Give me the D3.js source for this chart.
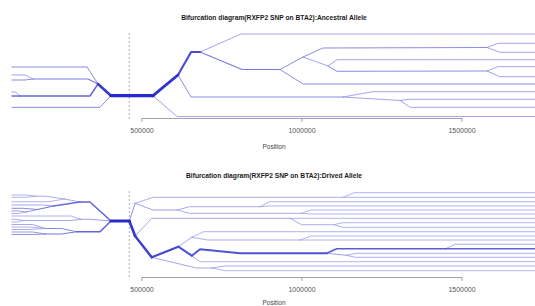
<!DOCTYPE html>
<html>
<head>
<meta charset="utf-8">
<script src="https://cdn.jsdelivr.net/npm/d3@7"></script>
<style>
body { margin: 0; background: #fff; }
text { font-family: "Liberation Sans", Arial, sans-serif; }
</style>
</head>
<body>
<div id="chart"></div>
<script>

// core SNP position and axis ticks
var corePos = 462000;
var tickVals = [500000, 1000000, 1500000];

var ancTitle = "Bifurcation diagram(RXFP2 SNP on BTA2):Ancestral Allele";
var derTitle = "Bifurcation diagram(RXFP2 SNP on BTA2):Drived Allele";
var xLabel = "Position";

// number of haplotypes carrying each allele
var ancTotal = 12;
var derTotal = 40;

var ancLeft = [
    {n: 12, pts: [[462000, 63.7], [404700, 63.7]]},
    {n: 10, pts: [[404700, 63.7], [364000, 52]]},
    {n: 2, pts: [[364000, 52], [330000, 35], [95000, 35]]},
    {n: 3, pts: [[364000, 52], [333000, 47], [161000, 47]]},
    {n: 1, pts: [[161000, 47], [136000, 43], [95000, 43]]},
    {n: 2, pts: [[161000, 47], [136000, 48], [95000, 48]]},
    {n: 5, pts: [[364000, 52], [339000, 64], [120000, 64]]},
    {n: 1, pts: [[120000, 64], [107000, 60], [95000, 60]]},
    {n: 4, pts: [[120000, 64], [95000, 64]]},
    {n: 2, pts: [[404700, 63.7], [370000, 75.3], [95000, 75.3]]}
];

var ancRight = [
    {n: 12, pts: [[462000, 63.7], [536000, 63.7]]},
    {n: 1, pts: [[536000, 63.7], [611000, 84.5], [1730000, 84.5]]},
    {n: 11, pts: [[536000, 63.7], [614000, 43]]},
    {n: 8, pts: [[614000, 43], [655000, 20], [683000, 20]]},
    {n: 2, pts: [[614000, 43], [655000, 65], [1130000, 65]]},
    {n: 1, pts: [[683000, 20], [811000, 2], [1730000, 2]]},
    {n: 3, pts: [[683000, 20], [814000, 37.5], [933000, 37.5]]},
    {n: 2, pts: [[933000, 37.5], [1005000, 52], [1730000, 52]]},
    {n: 2, pts: [[933000, 37.5], [1005000, 25]]},
    {n: 2, pts: [[1005000, 25], [1067000, 16], [1580000, 15.5]]},
    {n: 1, pts: [[1580000, 15.5], [1614000, 11.3], [1730000, 11.3]]},
    {n: 1, pts: [[1580000, 15.5], [1620000, 20.3], [1730000, 20.3]]},
    {n: 1, pts: [[1005000, 25], [1083000, 34]]},
    {n: 1, pts: [[1083000, 34], [1111000, 27.7], [1730000, 27.7]]},
    {n: 2, pts: [[1083000, 34], [1111000, 39.3], [1580000, 39]]},
    {n: 1, pts: [[1580000, 39], [1614000, 34.7], [1730000, 34.7]]},
    {n: 1, pts: [[1580000, 39], [1620000, 44.7], [1730000, 44.7]]},
    {n: 1, pts: [[1130000, 65], [1223000, 59.7], [1730000, 59.7]]},
    {n: 1, pts: [[1130000, 65], [1308000, 68.5]]},
    {n: 1, pts: [[1308000, 68.5], [1333000, 67.3], [1730000, 67.3]]},
    {n: 1, pts: [[1308000, 68.5], [1340000, 75.3], [1730000, 75.3]]}
];

var derLeft = [
    {n: 40, pts: [[462000, 31], [404700, 31]]},
    {n: 18, pts: [[404700, 31], [339000, 12], [307800, 12]]},
    {n: 3, pts: [[307800, 12], [260000, 9]]},
    {n: 2, pts: [[260000, 9], [200000, 6.2], [170000, 6.2]]},
    {n: 1, pts: [[170000, 6.2], [140000, 5], [95000, 5]]},
    {n: 1, pts: [[170000, 6.2], [140000, 7.3], [95000, 7.3]]},
    {n: 1, pts: [[260000, 9], [210000, 11.7], [95000, 11.7]]},
    {n: 15, pts: [[307800, 12], [225000, 16]]},
    {n: 3, pts: [[225000, 16], [190000, 15], [95000, 15]]},
    {n: 12, pts: [[225000, 16], [175000, 19.5]]},
    {n: 7, pts: [[175000, 19.5], [130000, 18.3], [95000, 18.3]]},
    {n: 5, pts: [[175000, 19.5], [140000, 22]]},
    {n: 4, pts: [[140000, 22], [115000, 21], [95000, 21]]},
    {n: 1, pts: [[140000, 22], [115000, 23.5], [95000, 23.5]]},
    {n: 4, pts: [[404700, 31], [339000, 29.3], [310000, 29.3]]},
    {n: 1, pts: [[310000, 29.3], [280000, 26], [95000, 26]]},
    {n: 3, pts: [[310000, 29.3], [280000, 30.5], [130000, 30.5]]},
    {n: 2, pts: [[130000, 30.5], [110000, 29.3], [95000, 29.3]]},
    {n: 1, pts: [[130000, 30.5], [110000, 32], [95000, 32]]},
    {n: 18, pts: [[404700, 31], [370300, 41.7], [297500, 41.7]]},
    {n: 7, pts: [[297500, 41.7], [250000, 38.5], [200000, 38.5]]},
    {n: 3, pts: [[200000, 38.5], [160000, 34.5], [95000, 34.5]]},
    {n: 2, pts: [[200000, 38.5], [150000, 37], [95000, 37]]},
    {n: 2, pts: [[200000, 38.5], [150000, 39.5], [95000, 39.5]]},
    {n: 11, pts: [[297500, 41.7], [250000, 44], [200000, 44]]},
    {n: 5, pts: [[200000, 44], [160000, 42], [95000, 42]]},
    {n: 6, pts: [[200000, 44], [160000, 44.5], [95000, 44.5]]}
];

var derRight = [
    {n: 6, pts: [[462000, 31], [480000, 13.3]]},
    {n: 2, pts: [[480000, 13.3], [537000, 7.3], [1130000, 7.3]]},
    {n: 1, pts: [[1130000, 7.3], [1165000, 2.7], [1730000, 2.7]]},
    {n: 1, pts: [[1130000, 7.3], [1730000, 7.3]]},
    {n: 4, pts: [[480000, 13.3], [536000, 20], [612000, 20]]},
    {n: 2, pts: [[612000, 20], [650000, 16.7], [870000, 16.7]]},
    {n: 1, pts: [[870000, 16.7], [900000, 11.7], [1730000, 11.7]]},
    {n: 1, pts: [[870000, 16.7], [900000, 16], [1730000, 16]]},
    {n: 2, pts: [[612000, 20], [650000, 23.3], [1000000, 23.3]]},
    {n: 1, pts: [[1000000, 23.3], [1030000, 20], [1730000, 20]]},
    {n: 1, pts: [[1000000, 23.3], [1030000, 24], [1730000, 24]]},
    {n: 34, pts: [[462000, 31], [480000, 46]]},
    {n: 3, pts: [[480000, 46], [532000, 28.3], [964000, 28.3]]},
    {n: 1, pts: [[964000, 28.3], [1730000, 28.3]]},
    {n: 2, pts: [[964000, 28.3], [1000000, 34.7], [1100000, 34.7]]},
    {n: 1, pts: [[1100000, 34.7], [1130000, 32.7], [1730000, 32.7]]},
    {n: 1, pts: [[1100000, 34.7], [1130000, 37.3], [1730000, 37.3]]},
    {n: 31, pts: [[480000, 46], [532000, 67.3]]},
    {n: 28, pts: [[532000, 67.3], [615000, 56.7]]},
    {n: 25, pts: [[615000, 56.7], [657000, 65.7]]},
    {n: 24, pts: [[657000, 65.7], [683000, 59.3], [808000, 63.3], [1079000, 63.3]]},
    {n: 1, pts: [[657000, 65.7], [683000, 71.7], [1730000, 71.7]]},
    {n: 20, pts: [[1079000, 63.3], [1110000, 58.7], [1450000, 58.7]]},
    {n: 18, pts: [[1450000, 58.7], [1730000, 58.7]]},
    {n: 2, pts: [[1450000, 58.7], [1480000, 54.3], [1730000, 54.3]]},
    {n: 4, pts: [[1079000, 63.3], [1140000, 65.3]]},
    {n: 2, pts: [[1140000, 65.3], [1170000, 63.3], [1730000, 63.3]]},
    {n: 2, pts: [[1140000, 65.3], [1170000, 67.3], [1730000, 67.3]]},
    {n: 3, pts: [[615000, 56.7], [657000, 47.3]]},
    {n: 1, pts: [[657000, 47.3], [694000, 41.7], [1730000, 41.7]]},
    {n: 2, pts: [[657000, 47.3], [707000, 50], [995000, 50]]},
    {n: 1, pts: [[995000, 50], [1030000, 46], [1730000, 46]]},
    {n: 1, pts: [[995000, 50], [1730000, 50]]},
    {n: 3, pts: [[532000, 67.3], [672000, 78], [720000, 78]]},
    {n: 2, pts: [[720000, 78], [760000, 76], [1730000, 76]]},
    {n: 1, pts: [[720000, 78], [760000, 80.7], [1730000, 80.7]]}
];


var width = 535,
    height = 306,
    midX = 274;

var svg = d3.select("#chart").append("svg")
    .attr("width", width)
    .attr("height", height);

svg.append("rect")
    .attr("width", width)
    .attr("height", height)
    .attr("fill", "#fff");

// genomic position scale shared by both panels
var x = d3.scaleLinear().domain([500000, 1500000]).range([141.5, 461.5]);

var panels = [
    {title: ancTitle, branches: ancLeft.concat(ancRight), total: ancTotal,
     titleY: 20, top: 32, bottom: 118, lanes: 86, labelY: 148.5},
    {title: derTitle, branches: derLeft.concat(derRight), total: derTotal,
     titleY: 177.5, top: 190, bottom: 277, lanes: 87, labelY: 305}
];

var colour = d3.interpolateRgb("#ababee", "#2a2acb");

panels.forEach(function (p) {

    var y = d3.scaleLinear().domain([0, p.lanes]).range([p.top, p.bottom]);

    var line = d3.line()
        .x(function (d) { return x(d[0]); })
        .y(function (d) { return y(d[1]); });

    var g = svg.append("g");

    // title
    g.append("text")
        .attr("x", midX)
        .attr("y", p.titleY)
        .attr("text-anchor", "middle")
        .style("font-size", "6.7px")
        .style("font-weight", "bold")
        .attr("fill", "#1a1a1a")
        .text(p.title);

    // core SNP marker
    g.append("line")
        .attr("x1", x(corePos)).attr("x2", x(corePos))
        .attr("y1", p.top + 1).attr("y2", p.bottom + 1)
        .attr("stroke", "#9a9ab8")
        .attr("stroke-width", 0.8)
        .attr("stroke-dasharray", "2,2");

    // branches, thin ones first
    var data = p.branches.slice().sort(function (a, b) { return a.n - b.n; });
    g.append("g")
        .selectAll("path")
        .data(data)
        .enter().append("path")
        .attr("d", function (d) { return line(d.pts); })
        .attr("fill", "none")
        .attr("stroke", function (d) { return colour(Math.pow(d.n / p.total, 0.7)); })
        .attr("stroke-width", function (d) { return 0.8 + 2.4 * Math.pow(d.n / p.total, 1.5); })
        .attr("stroke-linecap", "round")
        .attr("stroke-linejoin", "round");

    // axis
    var axis = g.append("g")
        .attr("transform", "translate(0," + p.bottom + ")")
        .call(d3.axisBottom(x)
            .tickValues(tickVals)
            .tickFormat(d3.format("d"))
            .tickSize(4)
            .tickSizeOuter(0)
            .tickPadding(6.5));
    axis.select(".domain").attr("stroke", "#8a8a8a").attr("stroke-width", 0.8);
    axis.selectAll(".tick line").attr("stroke", "#8a8a8a").attr("stroke-width", 0.8);
    axis.selectAll(".tick text")
        .attr("fill", "#555")
        .style("font-size", "7px")
        .style("font-family", "'Liberation Sans', Arial, sans-serif");

    g.append("text")
        .attr("x", midX)
        .attr("y", p.labelY)
        .attr("text-anchor", "middle")
        .style("font-size", "6.5px")
        .attr("fill", "#444")
        .text(xLabel);
});

</script>
</body>
</html>
